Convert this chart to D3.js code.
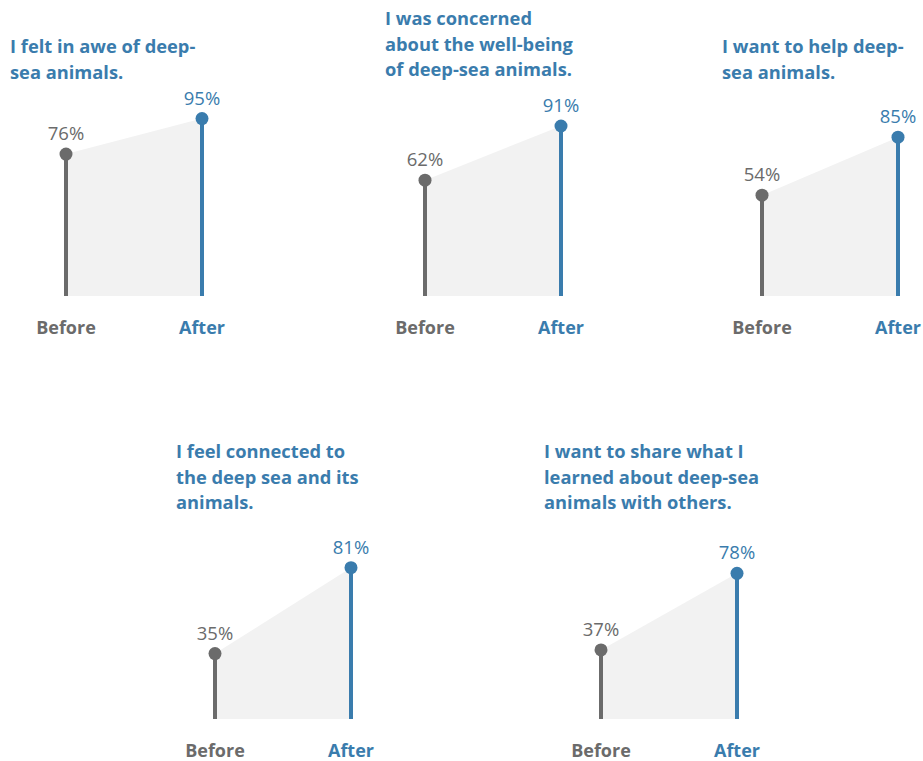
<!DOCTYPE html>
<html><head><meta charset="utf-8">
<script src="https://cdn.jsdelivr.net/npm/d3@7"></script>
<style>
html,body{margin:0;padding:0;background:#fff;}
svg{display:block;}
text{font-family:"Open Sans",Lato,sans-serif;}
</style></head>
<body>
<svg id="chart" width="923" height="761"></svg>
<script>
// ---- data ----
const categories = ["Before", "After"];
const questions = [
  ["I felt in awe of deep-", "sea animals."],
  ["I was concerned", "about the well-being", "of deep-sea animals."],
  ["I want to help deep-", "sea animals."],
  ["I feel connected to", "the deep sea and its", "animals."],
  ["I want to share what I", "learned about deep-sea", "animals with others."]
];
const beforeValues = [76, 62, 54, 35, 37];
const afterValues = [95, 91, 85, 81, 78];

// ---- layout ----
const layout = [
  {x0: 66,  base: 296, titleX: 10,  titleY: 53},
  {x0: 425, base: 296, titleX: 385, titleY: 25},
  {x0: 762, base: 296, titleX: 722, titleY: 53},
  {x0: 215, base: 719, titleX: 176, titleY: 458},
  {x0: 601, base: 719, titleX: 544, titleY: 458}
];
const BLUE = "#3a7cad", GRAY = "#6b6b6b", FILL = "#f2f2f2";
const svg = d3.select("#chart");

questions.forEach((q, i) => {
  const L = layout[i];
  const vals = [beforeValues[i], afterValues[i]];
  const x = d3.scalePoint().domain(categories).range([L.x0, L.x0 + 136]);
  const y = d3.scaleLinear().domain([0, 100]).range([L.base, L.base - 186.8]);
  const g = svg.append("g");
  const pts = categories.map((c, j) => ({c, v: vals[j]}));

  g.append("path").datum(pts)
    .attr("d", d3.area().x(d => x(d.c)).y0(L.base).y1(d => y(d.v)))
    .attr("fill", FILL);

  const col = c => c === "Before" ? GRAY : BLUE;
  g.selectAll("line.stem").data(pts).join("line")
    .attr("x1", d => x(d.c)).attr("x2", d => x(d.c))
    .attr("y1", L.base).attr("y2", d => y(d.v))
    .attr("stroke", d => col(d.c)).attr("stroke-width", 4);
  g.selectAll("circle").data(pts).join("circle")
    .attr("cx", d => x(d.c)).attr("cy", d => y(d.v)).attr("r", 6.5)
    .attr("fill", d => col(d.c));
  g.selectAll("text.val").data(pts).join("text")
    .attr("class", "val")
    .attr("x", d => x(d.c)).attr("y", d => y(d.v) - 14)
    .attr("text-anchor", "middle").attr("font-size", 18.5)
    .attr("fill", d => col(d.c)).text(d => d.v + "%");
  g.selectAll("text.cat").data(pts).join("text")
    .attr("class", "cat")
    .attr("x", d => x(d.c)).attr("y", L.base + 38)
    .attr("text-anchor", "middle").attr("font-size", 18).attr("font-weight", 700)
    .attr("fill", d => col(d.c)).text(d => d.c);

  const t = g.append("text").attr("x", L.titleX).attr("y", L.titleY)
    .attr("font-size", 18.3).attr("font-weight", 700).attr("fill", BLUE);
  q.forEach((line, k) => {
    t.append("tspan").attr("x", L.titleX).attr("y", L.titleY + k * 25.5).text(line);
  });
});
</script>
</body></html>
